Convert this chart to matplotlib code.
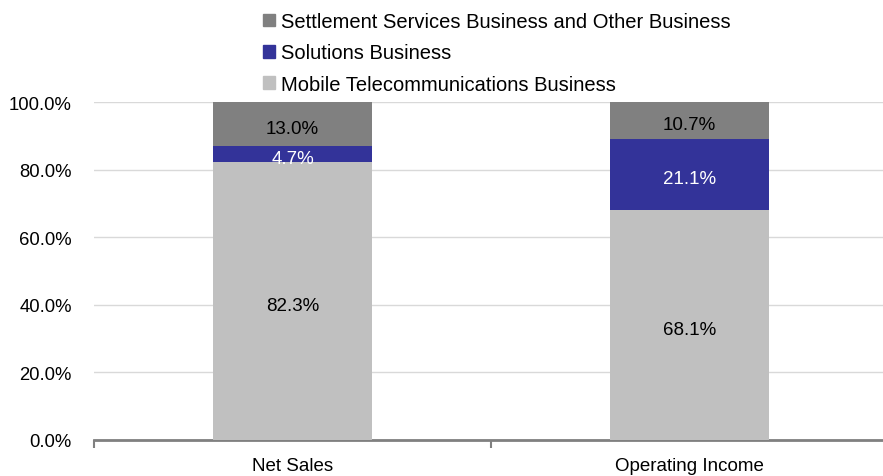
import matplotlib
matplotlib.use("Agg")
import matplotlib.pyplot as plt
from matplotlib.patches import Patch
import numpy as np

categories = ["Net Sales", "Operating Income"]
series_names = ["Mobile Telecommunications Business", "Solutions Business",
                "Settlement Services Business and Other Business"]
mobile = [82.3, 68.1]
solutions = [4.7, 21.1]
settlement = [13.0, 10.7]
colors = ["#C0C0C0", "#333399", "#808080"]
label_colors = ["black", "white", "black"]
y_ticks = [0, 20, 40, 60, 80, 100]

plt.rcParams['font.family'] = ['Liberation Sans', 'DejaVu Sans']

fig = plt.figure(figsize=(8.83, 4.77), dpi=100)
ax = fig.add_axes([94/883, 1-441/477, 794/883, 338/477])

x = np.arange(len(categories))
bottom = np.zeros(len(categories))
for vals, col, lc in zip([mobile, solutions, settlement], colors, label_colors):
    vals = np.array(vals)
    ax.bar(x, vals, width=0.4, bottom=bottom, color=col, zorder=3)
    for xi, v, b in zip(x, vals, bottom):
        ax.annotate(f"{v:.1f}%", (xi, b + v/2), xytext=(0, -3), textcoords="offset points",
                    ha="center", va="center", color=lc, fontsize=13.5, zorder=4)
    bottom += vals

ax.set_xlim(-0.5, 1.5)
ax.set_ylim(0, 100)
ax.set_yticks(y_ticks)
ax.set_yticklabels([f"{t:.1f}%" for t in y_ticks], fontsize=13.3)
ax.yaxis.grid(True, color="#D9D9D9", linewidth=1, zorder=0)
ax.tick_params(axis="y", length=0, pad=16)
for s in ["left", "right", "top"]:
    ax.spines[s].set_visible(False)
ax.spines["bottom"].set_color("#808080")
ax.spines["bottom"].set_linewidth(2)

ax.set_xticks([-0.5, 0.5, 1.5])
ax.set_xticklabels([])
ax.tick_params(axis="x", which="major", length=6, width=1.5, color="#808080", direction="out")
ax.set_xticks(x, minor=True)
ax.set_xticklabels(categories, minor=True, fontsize=13.5)
ax.tick_params(axis="x", which="minor", length=0, pad=12)

handles = [Patch(color=c) for c in colors][::-1]
labels = series_names[::-1]
fig.legend(handles, labels, loc="upper left", bbox_to_anchor=(263/883, 1-13/477),
           frameon=False, fontsize=14.5, handlelength=0.6, handleheight=0.6,
           handletextpad=0.3, labelspacing=0.62, borderaxespad=0, borderpad=0)

fig.savefig("out.png", dpi=100)
